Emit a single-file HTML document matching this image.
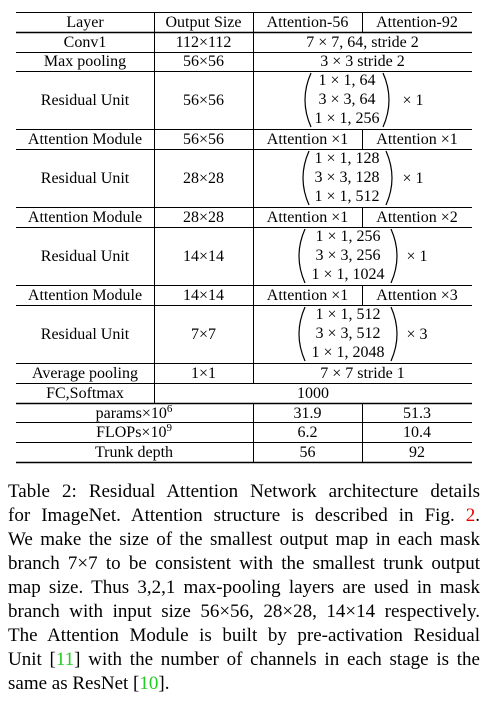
<!DOCTYPE html>
<html><head><meta charset="utf-8"><style>
body{margin:0;background:#fff;width:496px;height:704px;overflow:hidden;position:relative;font-family:"Liberation Serif",serif;}
svg text{font-family:"Liberation Serif",serif;font-size:16px;fill:#000;}
.cap{position:absolute;left:8px;width:472px;font-size:19px;line-height:24px;text-align:justify;text-align-last:justify;white-space:nowrap;}
.last{text-align-last:left;}
</style></head><body>
<svg width="496" height="470" style="position:absolute;left:0;top:0">
<g stroke="#000" stroke-width="1">
<line x1="16" x2="472" y1="12.5" y2="12.5"/>
<line x1="16" x2="472" y1="32.5" y2="32.5" stroke-width="1.5"/>
<line x1="16" x2="472" y1="52.5" y2="52.5"/>
<line x1="16" x2="472" y1="71.5" y2="71.5"/>
<line x1="16" x2="472" y1="129.5" y2="129.5"/>
<line x1="16" x2="472" y1="149.5" y2="149.5"/>
<line x1="16" x2="472" y1="207.5" y2="207.5"/>
<line x1="16" x2="472" y1="227.5" y2="227.5"/>
<line x1="16" x2="472" y1="285.5" y2="285.5"/>
<line x1="16" x2="472" y1="305.5" y2="305.5"/>
<line x1="16" x2="472" y1="363.5" y2="363.5"/>
<line x1="16" x2="472" y1="383.5" y2="383.5"/>
<line x1="16" x2="472" y1="403.5" y2="403.5" stroke-width="1.5"/>
<line x1="16" x2="472" y1="422.5" y2="422.5"/>
<line x1="16" x2="472" y1="442.5" y2="442.5"/>
<line x1="16" x2="472" y1="462.5" y2="462.5" stroke-width="1.5"/>
<line x1="154.5" x2="154.5" y1="12" y2="403"/>
<line x1="253.5" x2="253.5" y1="12" y2="383"/>
<line x1="253.5" x2="253.5" y1="403" y2="462"/>
<line x1="362.5" x2="362.5" y1="12" y2="32"/>
<line x1="362.5" x2="362.5" y1="129" y2="149"/>
<line x1="362.5" x2="362.5" y1="207" y2="227"/>
<line x1="362.5" x2="362.5" y1="285" y2="305"/>
<line x1="362.5" x2="362.5" y1="403" y2="462"/>
</g>
<g text-anchor="middle">
<text x="85" y="27">Layer</text>
<text x="203.5" y="27">Output Size</text>
<text x="307.5" y="27">Attention-56</text>
<text x="417" y="27">Attention-92</text>

<text x="85" y="47">Conv1</text><text x="203.5" y="47">112×112</text><text x="362.5" y="47">7 × 7, 64, stride 2</text>
<text x="85" y="66">Max pooling</text><text x="203.5" y="66">56×56</text><text x="362.5" y="66">3 × 3 stride 2</text>

<text x="85" y="105">Residual Unit</text><text x="203.5" y="105">56×56</text>
<text x="347" y="85">1 × 1, 64</text><text x="347" y="104">3 × 3, 64</text><text x="347" y="123">1 × 1, 256</text><text x="413" y="105">× 1</text>

<text x="85" y="144">Attention Module</text><text x="203.5" y="144">56×56</text><text x="307.5" y="144">Attention ×1</text><text x="417" y="144">Attention ×1</text>

<text x="85" y="183">Residual Unit</text><text x="203.5" y="183">28×28</text>
<text x="347" y="163">1 × 1, 128</text><text x="347" y="182">3 × 3, 128</text><text x="347" y="201">1 × 1, 512</text><text x="413" y="183">× 1</text>

<text x="85" y="222">Attention Module</text><text x="203.5" y="222">28×28</text><text x="307.5" y="222">Attention ×1</text><text x="417" y="222">Attention ×2</text>

<text x="85" y="261">Residual Unit</text><text x="203.5" y="261">14×14</text>
<text x="348" y="241">1 × 1, 256</text><text x="348" y="260">3 × 3, 256</text><text x="348" y="279">1 × 1, 1024</text><text x="417" y="261">× 1</text>

<text x="85" y="300">Attention Module</text><text x="203.5" y="300">14×14</text><text x="307.5" y="300">Attention ×1</text><text x="417" y="300">Attention ×3</text>

<text x="85" y="339">Residual Unit</text><text x="203.5" y="339">7×7</text>
<text x="348" y="319">1 × 1, 512</text><text x="348" y="338">3 × 3, 512</text><text x="348" y="357">1 × 1, 2048</text><text x="417" y="339">× 3</text>

<text x="85" y="378">Average pooling</text><text x="203.5" y="378">1×1</text><text x="362.5" y="378">7 × 7 stride 1</text>
<text x="85" y="398">FC,Softmax</text><text x="313" y="398">1000</text>

<text x="134" y="418">params×10<tspan dy="-6" font-size="11">6</tspan></text><text x="307.5" y="418">31.9</text><text x="417" y="418">51.3</text>
<text x="134" y="437">FLOPs×10<tspan dy="-6" font-size="11">9</tspan></text><text x="307.5" y="437">6.2</text><text x="417" y="437">10.4</text>
<text x="134" y="457">Trunk depth</text><text x="307.5" y="457">56</text><text x="417" y="457">92</text>
</g>
<g fill="none" stroke="#000" stroke-width="1.2">
<path d="M311 73 Q299 100 311 127"/><path d="M383 73 Q395 100 383 127"/>
<path d="M309 151 Q297 178 309 205"/><path d="M386 151 Q398 178 386 205"/>
<path d="M305 229 Q293 256 305 283"/><path d="M391 229 Q403 256 391 283"/>
<path d="M305 307 Q293 334 305 361"/><path d="M391 307 Q403 334 391 361"/>
</g>
</svg>
<div>
<div class="cap" style="top:480px">Table 2: Residual Attention Network architecture details</div>
<div class="cap" style="top:504px">for ImageNet. Attention structure is described in Fig. <span style="color:#e00">2</span>.</div>
<div class="cap" style="top:528px">We make the size of the smallest output map in each mask</div>
<div class="cap" style="top:552px">branch 7×7 to be consistent with the smallest trunk output</div>
<div class="cap" style="top:576px">map size. Thus 3,2,1 max-pooling layers are used in mask</div>
<div class="cap" style="top:600px">branch with input size 56×56, 28×28, 14×14 respectively.</div>
<div class="cap" style="top:624px">The Attention Module is built by pre-activation Residual</div>
<div class="cap" style="top:648px">Unit [<span style="color:#2c2">11</span>] with the number of channels in each stage is the</div>
<div class="cap last" style="top:672px">same as ResNet [<span style="color:#2c2">10</span>].</div>
</div>
</body></html>
